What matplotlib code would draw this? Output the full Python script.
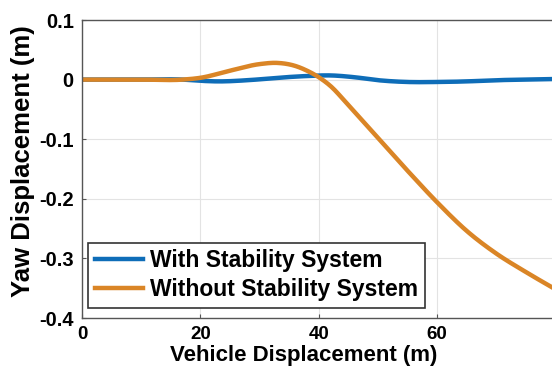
import numpy as np
import matplotlib.pyplot as plt

plt.rcParams['font.family'] = ['Liberation Sans', 'DejaVu Sans']
plt.rcParams['font.weight'] = 'bold'

# values
x_with = [0, 10, 17, 20, 23, 28, 33, 38, 42, 46, 50, 55, 60, 65, 70, 75, 80]
y_with = [0, 0, 0, -0.002, -0.003, -0.001, 0.003, 0.006, 0.007, 0.004, -0.001,
          -0.004, -0.004, -0.003, -0.001, 0.0, 0.001]

x_without = [0, 10, 17, 20, 25, 30, 33, 36, 38, 40, 42, 45, 50, 55, 60, 65, 70, 75, 80]
y_without = [0, 0, 0, 0.003, 0.015, 0.026, 0.028, 0.023, 0.015, 0.004, -0.011, -0.043,
             -0.098, -0.153, -0.206, -0.254, -0.292, -0.323, -0.352]

x_ticks = [0, 20, 40, 60]
y_ticks = [-0.4, -0.3, -0.2, -0.1, 0, 0.1]
y_ticklabels = ['-0.4', '-0.3', '-0.2', '-0.1', '0', '0.1']


def smooth(xs, ys, n=400):
    # cubic hermite through the read points
    xs = np.asarray(xs, float)
    ys = np.asarray(ys, float)
    xx = np.linspace(xs[0], xs[-1], n)
    h = np.diff(xs)
    d = np.diff(ys) / h
    m = np.zeros_like(ys)
    m[1:-1] = (d[:-1] * h[1:] + d[1:] * h[:-1]) / (h[:-1] + h[1:])
    m[0], m[-1] = d[0], d[-1]
    idx = np.clip(np.searchsorted(xs, xx) - 1, 0, len(h) - 1)
    t = (xx - xs[idx]) / h[idx]
    h00 = 2 * t**3 - 3 * t**2 + 1
    h10 = t**3 - 2 * t**2 + t
    h01 = -2 * t**3 + 3 * t**2
    h11 = t**3 - t**2
    yy = h00 * ys[idx] + h10 * h[idx] * m[idx] + h01 * ys[idx + 1] + h11 * h[idx] * m[idx + 1]
    return xx, yy


fig = plt.figure(figsize=(5.52, 3.72), dpi=100)
ax = fig.add_axes([82 / 552, 1 - 318 / 372, 473.6 / 552, 298 / 372])

xa, ya = smooth(x_with, y_with)
xb, yb = smooth(x_without, y_without)
ax.plot(xa, ya, color='#0E6DB8', lw=3.2, label='With Stability System')
ax.plot(xb, yb, color='#DA8526', lw=3.2, label='Without Stability System')

ax.set_xlim(0, 80)
ax.set_ylim(-0.4, 0.1)
ax.set_xticks(x_ticks)
ax.set_yticks(y_ticks)
ax.set_yticklabels(y_ticklabels)
ax.grid(True, color='#e3e3e3', lw=0.8)
ax.set_axisbelow(True)
ax.tick_params(direction='in', length=3, color='#555555')
ax.tick_params(axis='x', labelsize=13.5, pad=6)
ax.tick_params(axis='y', labelsize=14.5, pad=6)
for s in ax.spines.values():
    s.set_color('#555555')
    s.set_linewidth(1)

ax.set_xlabel('Vehicle Displacement (m)', fontsize=16, fontweight='bold')
ax.xaxis.set_label_coords((304 - 82) / 473.6, -0.09)
ax.set_ylabel('Yaw Displacement (m)', fontsize=18.5, fontweight='bold')
ax.yaxis.set_label_coords((35 - 82) / 473.6, 0.527)

leg = ax.legend(loc='lower left', bbox_to_anchor=(6 / 473.6, 10 / 298),
                fontsize=16.5, frameon=True, fancybox=False,
                edgecolor='#333333', framealpha=1, handlelength=2.1,
                borderpad=0.3, labelspacing=0.25, handletextpad=0.3,
                borderaxespad=0)
leg.get_frame().set_linewidth(1.2)

fig.savefig('out.png', dpi=100)
